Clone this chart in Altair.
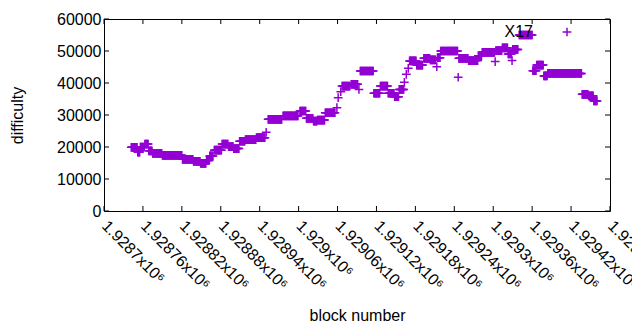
import altair as alt
import pandas as pd

# Runs of (first block, last block, difficulty)
run_start = [1928742, 1928752, 1928756, 1928763, 1928769, 1928775, 1928790, 1928821, 1928838, 1928849,
             1928858, 1928863, 1928870, 1928882, 1928892, 1928900, 1928909, 1928918, 1928935, 1928950,
             1928953, 1928976, 1929002, 1929012, 1929023, 1929029, 1929041, 1929059, 1929061, 1929065,
             1929067, 1929081, 1929093, 1929095, 1929116, 1929126, 1929138, 1929148, 1929155, 1929163,
             1929166, 1929169, 1929171, 1929182, 1929193, 1929203, 1929213, 1929214, 1929219, 1929246,
             1929247, 1929262, 1929277, 1929283, 1929303, 1929304, 1929314, 1929323, 1929329, 1929330,
             1929340, 1929361, 1929367, 1929378, 1929384, 1929437, 1929447, 1929455]
run_end = [1928751, 1928755, 1928762, 1928768, 1928774, 1928789, 1928820, 1928837, 1928848, 1928857,
           1928862, 1928868, 1928881, 1928891, 1928899, 1928908, 1928917, 1928934, 1928948, 1928950,
           1928974, 1928999, 1929011, 1929022, 1929028, 1929040, 1929056, 1929059, 1929061, 1929065,
           1929079, 1929091, 1929093, 1929115, 1929125, 1929137, 1929147, 1929154, 1929162, 1929163,
           1929166, 1929169, 1929181, 1929191, 1929202, 1929211, 1929213, 1929218, 1929245, 1929246,
           1929261, 1929276, 1929282, 1929302, 1929303, 1929313, 1929322, 1929328, 1929329, 1929338,
           1929360, 1929366, 1929377, 1929383, 1929436, 1929446, 1929454, 1929460]
run_value = [19900, 18400, 20000, 20900, 18800, 18000, 17400, 16150, 15500, 14900,
             15800, 17200, 19000, 20900, 20100, 19500, 21800, 22300, 22900, 24600,
             28650, 29700, 31250, 28950, 28100, 28400, 30700, 32300, 35400, 37300,
             39050, 39600, 38000, 43750, 36800, 39050, 36800, 35700, 38000, 40200,
             42700, 44600, 46900, 45600, 47700, 47200, 45100, 47900, 50000, 41800,
             47700, 47000, 48500, 49600, 46700, 50100, 51000, 49100, 47000, 50500,
             55000, 43850, 45600, 42200, 43000, 36450, 36000, 34400]

x_ticks = [1928700, 1928760, 1928820, 1928880, 1928940, 1929000, 1929060,
           1929120, 1929180, 1929240, 1929300, 1929360, 1929420, 1929480]
y_ticks = [0, 10000, 20000, 30000, 40000, 50000, 60000]
series_name = ["X17"]

blocks, diffs = [], []
for s, e, v in zip(run_start, run_end, run_value):
    for b in range(s, e + 1):
        blocks.append(b)
        diffs.append(v)

df = pd.DataFrame({"block": blocks, "difficulty": diffs})
xt = pd.DataFrame({"block": x_ticks})
yt = pd.DataFrame({"difficulty": y_ticks})
lg = pd.DataFrame({"name": series_name})

W, H = 506, 192
COLOR = "#9400D3"
PLUS = "M-1,0L1,0M0,-1L0,1"
FONT = "Liberation Sans"
MSIZE, MSTROKE = 76, 1.5

xscale = alt.Scale(domain=[1928700, 1929480], nice=False, zero=False)
yscale = alt.Scale(domain=[0, 60000], nice=False)

xaxis = alt.Axis(values=x_ticks, labelAngle=45, labelAlign="left", labelBaseline="middle",
                 labelPadding=12, tickSize=0, domain=False, grid=False,
                 labelExpr="format(datum.value / 1000000, '.6~f') + 'x10⁶'",
                 titleX=W / 2, titleY=104, titleBaseline="middle", labelOverlap=False,
                 labelFlush=False, labelBound=False)
yaxis = alt.Axis(values=y_ticks, format="d", tickSize=0, labelPadding=3, domain=False,
                 grid=False, titleX=-87, titleY=H / 2, titleBaseline="middle", titleAngle=270)

X = alt.X("block:Q", scale=xscale, title="block number", axis=xaxis)
Y = alt.Y("difficulty:Q", scale=yscale, title="difficulty", axis=yaxis)

points = alt.Chart(df).mark_point(
    shape=PLUS, filled=False, size=MSIZE, strokeWidth=MSTROKE, color=COLOR, opacity=1
).encode(x=X, y=Y)

tk = 5
bottom = alt.Chart(xt).mark_rule(color="black", strokeWidth=1).encode(
    x=X, y=alt.value(H), y2=alt.value(H - tk))
top = alt.Chart(xt).mark_rule(color="black", strokeWidth=1).encode(
    x=X, y=alt.value(0), y2=alt.value(tk))
left = alt.Chart(yt).mark_rule(color="black", strokeWidth=1).encode(
    y=Y, x=alt.value(0), x2=alt.value(tk))
right = alt.Chart(yt).mark_rule(color="black", strokeWidth=1).encode(
    y=Y, x=alt.value(W), x2=alt.value(W - tk))

leg_text = alt.Chart(lg).mark_text(align="right", baseline="middle", font=FONT, fontSize=16,
                                   color="black").encode(
    text="name:N", x=alt.value(429), y=alt.value(13))
leg_sym = alt.Chart(lg).mark_point(shape=PLUS, filled=False, size=MSIZE, strokeWidth=MSTROKE,
                                   color=COLOR, opacity=1).encode(
    x=alt.value(463), y=alt.value(13))

chart = alt.layer(points, bottom, top, left, right, leg_text, leg_sym).properties(
    width=W, height=H,
    autosize=alt.AutoSizeParams(type="none"),
    padding={"left": 96, "top": 11, "right": 22, "bottom": 111},
).configure_view(stroke="black", strokeWidth=1).configure_axis(
    labelFont=FONT, titleFont=FONT, labelFontSize=16, titleFontSize=16,
    labelColor="black", titleColor="black", titleFontWeight="normal"
).configure_axisX(labelOverlap=False)

chart.save("out.html", embed_options={"renderer": "svg", "actions": False})
